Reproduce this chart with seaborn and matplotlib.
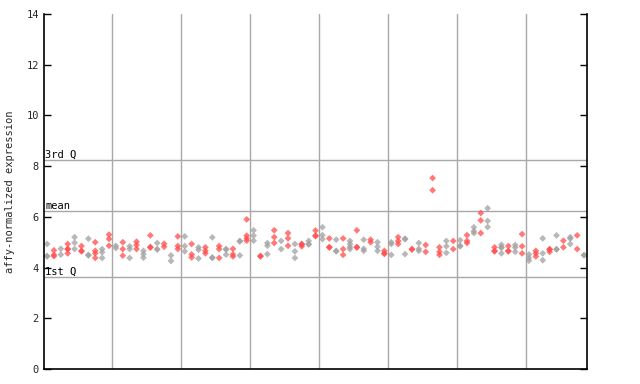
import matplotlib
matplotlib.use("Agg")
import matplotlib.pyplot as plt
import seaborn as sns
import pandas as pd
import numpy as np

# expression values per sample column (replicates), grouped by the 8 vertical bands
group1 = [[4.93, 4.46, 4.44], [4.68, 4.5, 4.45], [4.74, 4.51], [4.93, 4.74, 4.72, 4.56],
          [5.2, 4.98, 4.73], [4.85, 4.66, 4.64], [5.14, 4.5, 4.48], [5.0, 4.66, 4.56, 4.38],
          [4.73, 4.6, 4.38], [5.3, 5.13, 4.86]]
group2 = [[4.86, 4.77], [5.0, 4.73, 4.47], [4.84, 4.73, 4.38], [5.02, 4.89, 4.73],
          [4.66, 4.53, 4.39], [5.27, 4.81, 4.79], [4.97, 4.73, 4.71], [4.94, 4.82],
          [4.48, 4.26], [5.23, 4.85, 4.73]]
group3 = [[5.23, 4.85, 4.64], [4.93, 4.52, 4.4], [4.8, 4.7, 4.36], [4.8, 4.66, 4.56],
          [5.19, 4.4, 4.38], [4.85, 4.73, 4.38], [4.73, 4.71, 4.51], [4.74, 4.52, 4.44],
          [5.05, 5.03, 4.48], [5.9, 5.26, 5.15, 5.06]]
group4 = [[5.47, 5.26, 5.06], [4.46, 4.44], [4.97, 4.86, 4.53], [5.47, 5.2, 4.97],
          [5.05, 4.73], [5.36, 5.15, 4.86], [4.93, 4.64, 4.38], [4.93, 4.91, 4.84],
          [5.05, 4.93, 4.91], [5.46, 5.26, 5.24]]
group5 = [[5.59, 5.28, 5.12], [5.15, 4.81, 4.79], [5.1, 4.66, 4.64], [5.15, 4.73, 4.5],
          [5.05, 4.93, 4.81, 4.73], [5.47, 4.81, 4.79], [5.1, 4.74, 4.66], [5.1, 5.0],
          [5.0, 4.82, 4.66], [4.66, 4.56, 4.54]]
group6 = [[5.0, 4.93, 4.5], [5.2, 5.05, 4.93], [5.14, 5.12, 4.53], [4.73, 4.71],
          [4.97, 4.74, 4.66], [4.89, 4.62], [7.53, 7.05], [4.8, 4.62, 4.5],
          [5.05, 4.84, 4.58], [5.05, 4.73]]
group7 = [[5.08, 4.86, 4.84], [5.28, 5.05, 4.97], [5.59, 5.44, 5.36], [6.15, 5.86, 5.36],
          [6.34, 5.84, 5.6], [4.8, 4.66, 4.64], [4.9, 4.8, 4.78, 4.56], [4.85, 4.66, 4.64],
          [4.89, 4.79, 4.62], [5.32, 4.84, 4.56]]
group8 = [[4.52, 4.38, 4.27], [4.66, 4.56, 4.44], [5.15, 4.56, 4.29], [4.73, 4.71, 4.62],
          [5.27, 4.73, 4.71], [5.06, 4.8], [5.2, 5.14, 4.93], [5.27, 4.73], [4.5, 4.48]]

# summary lines
q1_value = 3.63
mean_value = 6.23
q3_value = 8.24
line_labels = ["1st Q", "mean", "3rd Q"]
y_ticks = [0, 2, 4, 6, 8, 10, 12, 14]

groups = [group1, group2, group3, group4, group5, group6, group7, group8]

rows = []
col = 0
for g in groups:
    for vals in g:
        kind = "gray" if col % 2 == 0 else "red"
        if col == 56:
            kind = "red"
        for v in vals:
            rows.append({"sample": col, "value": v, "kind": kind})
        col += 1
df = pd.DataFrame(rows)
n_cols = col

sns.set_theme(style="white")
plt.rcParams["font.family"] = ["DejaVu Sans Mono", "DejaVu Sans"]

fig = plt.figure(figsize=(6.4, 3.84), dpi=100)
ax = fig.add_axes([44.3 / 640, 15 / 384, (587 - 44.3) / 640, (369 - 14) / 384])

grid_c = "#a8a8a8"
# horizontal summary lines
for val, lab in zip([q1_value, mean_value, q3_value], line_labels):
    ax.axhline(val, color=grid_c, lw=1.0, zorder=1)
    ax.text(0.002, val + 0.02, lab, transform=ax.get_yaxis_transform(),
            fontsize=7.5, va="bottom", ha="left", color="black", zorder=3)

# group boundaries
bounds = np.cumsum([len(g) for g in groups])[:-1] - 0.5
for b in bounds:
    ax.axvline(b, color=grid_c, lw=1.0, zorder=1)

sns.scatterplot(data=df, x="sample", y="value", hue="kind",
                palette={"gray": "#a0a0a0", "red": "#ff4c4c"},
                marker="D", s=12, linewidth=0, alpha=0.75, legend=False,
                ax=ax, zorder=2)

ax.set_xlim(-0.4, n_cols - 1 + 0.43)
ax.set_ylim(0, 14)
ax.set_yticks(y_ticks)
ax.set_yticklabels([str(t) for t in y_ticks], fontsize=7.5)
ax.set_xticks([])
ax.set_xlabel("")
ax.set_ylabel("affy-normalized expression", fontsize=7.5, labelpad=8)

ax.tick_params(axis="y", which="both", direction="in", length=5, width=1,
               left=True, right=True, labelleft=True, labelright=False, color="black", pad=4)
for side in ["left", "right", "bottom"]:
    ax.spines[side].set_visible(True)
    ax.spines[side].set_color("black")
    ax.spines[side].set_linewidth(1.2)
ax.spines["top"].set_visible(False)

fig.savefig("out.png", dpi=100)
